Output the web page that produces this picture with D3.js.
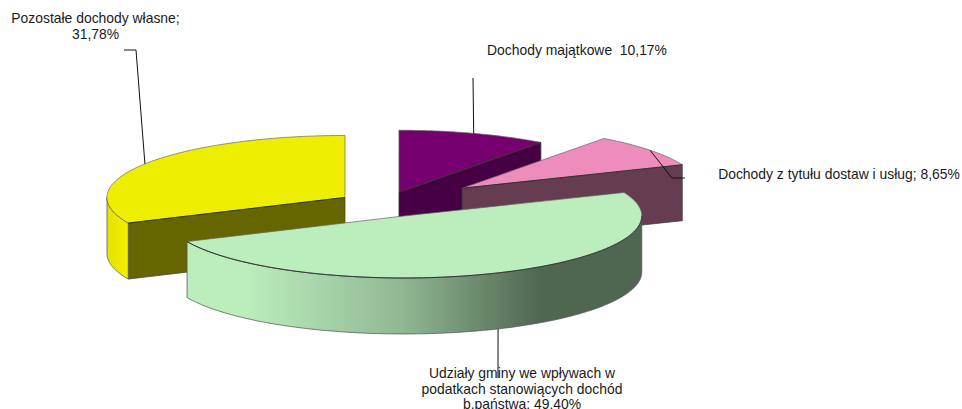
<!DOCTYPE html>
<html>
<head>
<meta charset="utf-8">
<style>
html,body{margin:0;padding:0;background:#fff;overflow:hidden}
svg{display:block}
text{font-family:"Liberation Sans",Arial,sans-serif;font-size:13.9px;fill:#1a1a1a;text-anchor:middle}
</style>
<script src="https://cdn.jsdelivr.net/npm/d3@7"></script>
</head>
<body>
<svg id="c" width="962" height="409"></svg>
<script>
// Data
const categories = ["Dochody majątkowe", "Dochody z tytułu dostaw i usług", "Udziały gminy we wpływach w podatkach stanowiących dochód b.państwa", "Pozostałe dochody własne"];
const values = [10.17, 8.65, 49.40, 31.78];
const labelLines = [
  ["Dochody majątkowe  10,17%"],
  ["Dochody z tytułu dostaw i usług; 8,65%"],
  ["Udziały gminy we wpływach w", "podatkach stanowiących dochód", "b.państwa; 49,40%"],
  ["Pozostałe dochody własne;", "31,78%"]
];
// Style and layout
const explode = [0.2, 0.415, 0.21, 0.195];
const drawOrder = [3, 0, 1, 2];
const topColors = ["#770070", "#ee8cbc", "#bbedbd", "#eeee00"];
const cutColors = ["#470043", "#663c50", "#4f6650", "#666600"];
const labelPos = [[577, 55], [839, 179], [522, 378], [95.5, 23]];
const leaderElbow = [
  [[473, 78]],
  [[672, 178], [685, 178]],
  [[498, 378]],
  [[136, 50], [124, 50]]
];
const cx = 384, cy = 204, rx = 238, ry = 62, depth = 56;

const svg = d3.select("#c");
const defs = svg.append("defs");
const grad = (id, x1, x2, stops) => {
  const g = defs.append("linearGradient").attr("id", id)
    .attr("gradientUnits", "userSpaceOnUse")
    .attr("x1", x1).attr("x2", x2).attr("y1", 0).attr("y2", 0);
  stops.forEach(([o, c]) => g.append("stop").attr("offset", o).attr("stop-color", c));
};
grad("gGreen", 188, 642, [[0, "#bbedbd"], [0.13, "#bbedbd"], [0.28, "#a9d6ab"], [0.47, "#90b892"], [0.64, "#6c8a6e"], [0.78, "#4f6650"], [1, "#4f6650"]]);
grad("gYellow", 107, 128, [[0, "#e4e200"], [1, "#f2f000"]]);
const wallFill = [null, null, "url(#gGreen)", "url(#gYellow)"];

const arcs = d3.pie().sort(null).value(d => d)(values);
const line = d3.line();

drawOrder.forEach(i => {
  const a = arcs[i];
  const mid = (a.startAngle + a.endAngle) / 2;
  const ox = cx + Math.sin(mid) * rx * explode[i];
  const oy = cy - Math.cos(mid) * ry * explode[i];
  const pt = (ang, dz = 0) => [ox + Math.sin(ang) * rx, oy - Math.cos(ang) * ry + dz];
  const rim = (s, e, dz = 0) => {
    const n = Math.max(2, Math.ceil((e - s) / 0.01));
    return d3.range(n + 1).map(k => pt(s + (e - s) * k / n, dz));
  };
  const g = svg.append("g");
  const apex = [ox, oy];
  a.leader = [i === 2 ? pt(mid, depth) : pt(mid), ...leaderElbow[i]];

  // cut face that faces the viewer
  const e = pt(i === 3 ? a.startAngle : a.endAngle);
  if (i !== 2) {
    g.append("path")
      .attr("d", line([apex, e, [e[0], e[1] + depth], [apex[0], apex[1] + depth]]) + "Z")
      .attr("fill", cutColors[i]).attr("stroke", "#3a3a3a").attr("stroke-width", 0.7);
  }
  // outer wall on the front half
  const ws = Math.max(a.startAngle, Math.PI / 2), we = Math.min(a.endAngle, Math.PI * 1.5);
  if (we > ws) {
    const upper = rim(ws, we), lower = rim(ws, we, depth).reverse();
    g.append("path").attr("d", line(upper.concat(lower)) + "Z")
      .attr("fill", wallFill[i]).attr("stroke", "#5a5a5a").attr("stroke-width", 0.8);
  }
  // top face
  g.append("path").attr("d", line([apex, ...rim(a.startAngle, a.endAngle)]) + "Z")
    .attr("fill", topColors[i]).attr("stroke", "#666").attr("stroke-width", 0.7).attr("stroke-linejoin", "round");
  // darker edge where top meets the front
  const front = i === 2 ? rim(Math.PI / 2, a.endAngle) : [apex, e];
  g.append("path").attr("d", line(front)).attr("fill", "none").attr("stroke", "#222").attr("stroke-width", 0.8);
});

// Leader lines
arcs.forEach(a => {
  svg.append("path").attr("d", line(a.leader)).attr("fill", "none")
    .attr("stroke", "#111").attr("stroke-width", 1);
});

// Labels
labelLines.forEach((ls, i) => {
  const t = svg.append("text").attr("x", labelPos[i][0]).attr("y", labelPos[i][1]);
  ls.forEach((s, k) => t.append("tspan").attr("x", labelPos[i][0]).attr("dy", k ? 15.5 : 0).style("white-space", "pre").text(s));
});
</script>
</body>
</html>
